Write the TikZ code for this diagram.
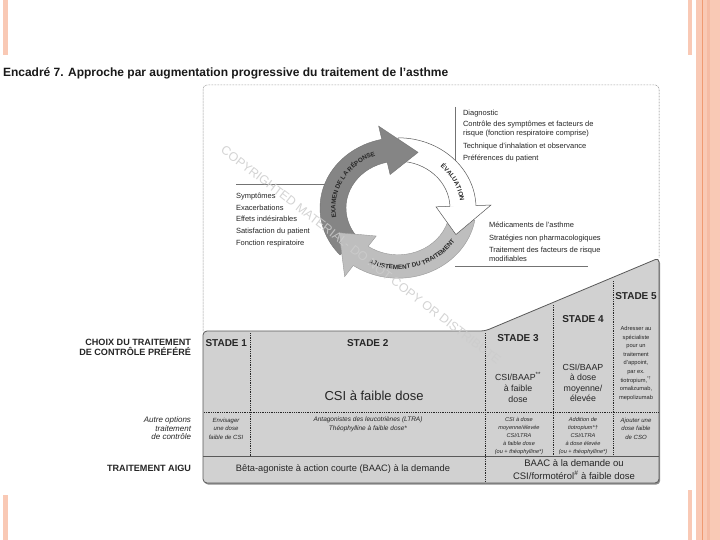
\documentclass[tikz,border=0pt]{standalone}
\usepackage{fontspec}
\setmainfont{Liberation Sans}
\usetikzlibrary{decorations.text,calc}
\newcommand{\myfs}[2]{\fontsize{#1}{#2}\selectfont}
\definecolor{salmon}{HTML}{F9C9B5}
\definecolor{salmondk}{HTML}{F5BBA4}
\definecolor{salmonline}{HTML}{F09A72}
\definecolor{darkarr}{HTML}{858585}
\definecolor{lightarr}{HTML}{BEBEBE}
\definecolor{tabfill}{HTML}{D1D1D1}
\definecolor{wmark}{HTML}{CCCCCC}
\begin{document}
\begin{tikzpicture}[x=1pt,y=-1pt,
  every node/.style={inner sep=0pt,outer sep=0pt},
  lbl/.style={font=\myfs{7.5}{8.5}, anchor=mid west, text=black!85},
  hdr/.style={font=\bfseries\myfs{10}{11}, text=black!85},
  tdot/.style={black!85, line width=0.5pt, dash pattern=on 0.7pt off 1.1pt},
  conn/.style={black!55, line width=0.5pt},
  small/.style={font=\itshape\myfs{5.6}{8}, align=center, text=black!85},
  side/.style={font=\bfseries\myfs{9.1}{10}, align=right, text=black!85},
  tabline/.style={draw=black!65, line width=0.8pt},
  arrdark/.style={fill=darkarr, draw=black!55, line width=0.4pt},
  arrwhite/.style={fill=white, draw=black!65, line width=0.5pt},
  arrlight/.style={fill=lightarr, draw=black!40, line width=0.4pt},
]
\useasboundingbox (0,0) rectangle (720,540);
\fill[white] (0,0) rectangle (720,540);
% slide decorations
\fill[salmon] (3,0) rectangle (8,55);
\fill[salmon] (3,495) rectangle (8,540);
\fill[salmon] (688,0) rectangle (692,55);
\fill[salmon] (688,490) rectangle (692,540);
\fill[salmon] (696,0) rectangle (720,540);
\fill[salmondk] (707,0) rectangle (710,540);
\fill[salmonline] (701.8,0) rectangle (703,540);

% title
\node[anchor=mid west, font=\bfseries\myfs{12}{13}, text=black!90] (title) at (3,74)
  {Encadré 7. Approche par augmentation progressive du traitement de l’asthme};

% dotted frame
\draw[black!55, line width=0.5pt, dash pattern=on 0.6pt off 0.9pt, rounded corners=4]
  (203,331) -- (203,85) -- (659,85) -- (659,258);

% connector lines
\coordinate (lA) at (236,184); \coordinate (lB) at (328,184);
\coordinate (rA) at (455,107); \coordinate (rB) at (455,162);
\coordinate (mA) at (455,266); \coordinate (mB) at (588,266);
\draw[conn] (lA) -- (lB);
\draw[conn] (rA) -- (rB);
\draw[conn] (mA) -- (mB);

% cycle
\begin{scope}[shift={(398,208)}, yscale=-0.9]
  % bodies
  \path[arrdark] (222:78) arc[start angle=222,end angle=101,radius=78]
     -- (101:52) arc[start angle=101,end angle=222,radius=52] -- cycle;
  \path[arrwhite] (90:78) arc[start angle=90,end angle=1,radius=78]
     -- (1:52) arc[start angle=1,end angle=90,radius=52] -- cycle;
  \path[arrlight] (-10:78) arc[start angle=-10,end angle=-126,radius=78]
     -- (-126:52) arc[start angle=-126,end angle=-10,radius=52] -- cycle;
  % heads
  \fill[darkarr] (102:52) -- (102:38) -- (72:65) -- (102:93) -- (102:78) -- cycle;
  \draw[black!55, line width=0.4pt] (102:52) -- (102:38) -- (72:65) -- (102:93) -- (102:78);
  \fill[white] (2:52) -- (2:38) -- (-27:65) -- (2:93) -- (2:78) -- cycle;
  \draw[black!65, line width=0.5pt] (2:52) -- (2:38) -- (-27:65) -- (2:93) -- (2:78);
  \fill[lightarr] (-125:52) -- (-125:38) -- (-155:65) -- (-125:93) -- (-125:78) -- cycle;
  \draw[black!40, line width=0.4pt] (-125:52) -- (-125:38) -- (-155:65) -- (-125:93) -- (-125:78);
\end{scope}
% cycle labels
\path[decorate, decoration={text along path, text align=center,
   text={|\bfseries\myfs{6.3}{7}\color{black!85}|EXAMEN DE LA RÉPONSE}}]
  ($(398,208)+({62.5*cos(200)},{-0.9*62.5*sin(200)})$)
  arc[start angle=-200, end angle=-102, x radius=62.5, y radius=56.25];
\path[decorate, decoration={text along path, text align=center,
   text={|\bfseries\myfs{6.3}{7}\color{black!85}|ÉVALUATION}}]
  ($(398,208)+({62.5*cos(52)},{-0.9*62.5*sin(52)})$)
  arc[start angle=-52, end angle=-2, x radius=62.5, y radius=56.25];
\path[decorate, decoration={text along path, text align=center,
   text={|\bfseries\myfs{6.3}{7}\color{black!85}|AJUSTEMENT DU TRAITEMENT}}]
  ($(398,208)+({68*cos(236)},{-0.9*68*sin(236)})$)
  arc[start angle=-236, end angle=-336, x radius=68, y radius=61.2];

% text blocks around cycle
\node[lbl] (t1) at (463,113) {Diagnostic};
\node[lbl] (t2) at (463,124) {Contrôle des symptômes et facteurs de};
\node[lbl] (t3) at (463,132.5) {risque (fonction respiratoire comprise)};
\node[lbl] (t4) at (463,146) {Technique d’inhalation et observance};
\node[lbl] (t5) at (463,158) {Préférences du patient};

\node[lbl] (s1) at (236,195.5) {Symptômes};
\node[lbl] (s2) at (236,207.5) {Exacerbations};
\node[lbl] (s3) at (236,219) {Effets indésirables};
\node[lbl] (s4) at (236,231) {Satisfaction du patient};
\node[lbl] (s5) at (236,242.5) {Fonction respiratoire};

\node[lbl] (m1) at (489,224.5) {Médicaments de l’asthme};
\node[lbl] (m2) at (489,237.5) {Stratégies non pharmacologiques};
\node[lbl] (m3) at (489,250) {Traitement des facteurs de risque};
\node[lbl] (m4) at (489,258.5) {modifiables};

% table
\begin{scope}[shift={(1.2,1.6)}]
  \fill[black!45, rounded corners=4] (203,331) -- (485,331) -- (659,258) -- (659,483) -- (203,483) -- cycle;
\end{scope}
\path[tabline, fill=tabfill, rounded corners=4] (203,331) -- (485,331) -- (659,258) -- (659,483) -- (203,483) -- cycle;
\draw[tdot] (250,333) -- (250,456);
\draw[tdot] (485,333) -- (485,482);
\draw[tdot] (553,305) -- (553,456);
\draw[tdot] (613,281) -- (613,456);
\draw[tdot] (204,412) -- (658,412);
\draw[black!65, line width=0.7pt] (203,456) -- (659,456);

\node[hdr, anchor=mid west] (st1) at (205.5,344) {STADE 1};
\node[hdr, anchor=mid west] (st2) at (347,344) {STADE 2};
\node[hdr] (st3) at (518,338) {STADE 3};
\node[hdr] (st4) at (583,319) {STADE 4};
\node[hdr] (st5) at (636,296) {STADE 5};

\node[font=\myfs{13}{14}, text=black!85] (c2) at (374,396) {CSI à faible dose};
\node[font=\myfs{8.8}{11}, align=center, text=black!85] (c3) at (518,387.5)
  {CSI/BAAP\textsuperscript{**}\\à faible\\dose};
\node[font=\myfs{8.8}{10.5}, align=center, text=black!85] (c4) at (583,383)
  {CSI/BAAP\\à dose\\moyenne/\\élevée};
\node[font=\myfs{5.7}{8.6}, align=center, text=black!85] (c5) at (636,363.5)
  {Adresser au\\spécialiste\\pour un\\traitement\\d’appoint,\\par ex.\\tiotropium,\textsuperscript{*†}\\omalizumab,\\mepolizumab};

\node[small, font=\itshape\myfs{6}{8.5}] (o1) at (226,428.5) {Envisager\\une dose\\faible de CSI};
\node[small, font=\itshape\myfs{6.5}{8.5}] (o2) at (368,424.5) {Antagonistes des leucotriènes (LTRA)\\Théophylline à faible dose*};
\node[small] (o3) at (519,436) {CSI à dose\\moyenne/élevée\\CSI/LTRA\\à faible dose\\(ou + théophylline*)};
\node[small] (o4) at (583,436) {Addition de\\tiotropium*†\\CSI/LTRA\\à dose élevée\\(ou + théophylline*)};
\node[small, font=\itshape\myfs{6}{8.5}] (o5) at (636,428.5) {Ajouter une\\dose faible\\de CSO};

\node[font=\myfs{9.3}{10}, text=black!85] (a1) at (343,469) {Bêta-agoniste à action courte (BAAC) à la demande};
\node[font=\myfs{9.5}{13}, align=center, text=black!85] (a2) at (574,469.5) {BAAC à la demande ou\\CSI/formotérol\textsuperscript{\#} à faible dose};

% side labels
\node[side, anchor=east] (L1) at (191,347) {CHOIX DU TRAITEMENT\\DE CONTRÔLE PRÉFÉRÉ};
\node[font=\itshape\myfs{8}{8.6}, align=right, text=black!85, anchor=east] (L2) at (191,428.5) {Autre options\\traitement\\de contrôle};
\node[side, anchor=mid east] (L3) at (191,469) {TRAITEMENT AIGU};

% watermark
\node[rotate=-37.6, font=\myfs{12.4}{14}, text=wmark, text opacity=0.85] (wm) at (361,255)
  {COPYRIGHTED MATERIAL- DO NOT COPY OR DISTRIBUTE};
\end{tikzpicture}
\end{document}
